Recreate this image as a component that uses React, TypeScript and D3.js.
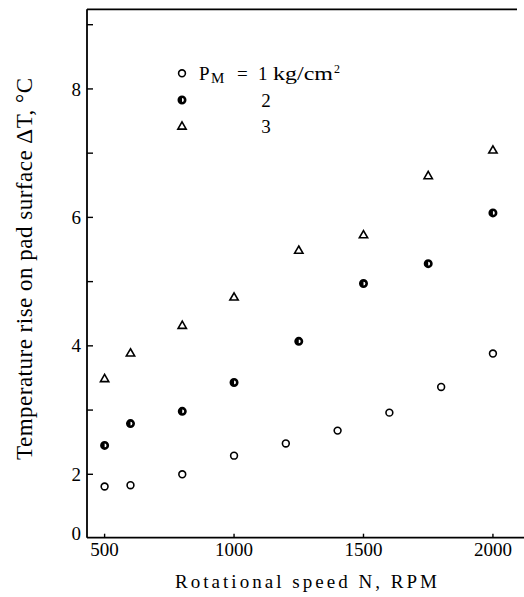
import React from "react";
import * as d3 from "d3";

// ---- data ----
const rpm1 = [500, 600, 800, 1000, 1200, 1400, 1600, 1800, 2000];
const dT1 = [1.81, 1.83, 2.0, 2.29, 2.48, 2.68, 2.96, 3.36, 3.88];
const rpm2 = [500, 600, 800, 1000, 1250, 1500, 1750, 2000];
const dT2 = [2.45, 2.79, 2.98, 3.43, 4.07, 4.97, 5.28, 6.07];
const rpm3 = [500, 600, 800, 1000, 1250, 1500, 1750, 2000];
const dT3 = [3.48, 3.88, 4.31, 4.75, 5.48, 5.72, 6.64, 7.04];

const xTicks = [500, 1000, 1500, 2000];
const yTickMarks = [2, 3, 4, 5, 6, 7, 8, 9];
const yTickLabels = [0, 2, 4, 6, 8];
const legendRows = ["1", "2", "3"];

const W = 524;
const H = 597;
const FONT = "Liberation Serif, Times New Roman, serif";

export default function App() {
  const left = 87;
  const top = 9.3;
  const bottom = 537.7;
  const right = 524;

  const x = d3.scaleLinear().domain([432, 2120]).range([left, right]);
  // broken axis: 0..1.7 compressed, linear above
  const yLin = d3.scaleLinear().domain([2, 9]).range([474.3, 24.7]);
  const y = d3
    .scaleLinear()
    .domain([0, 1.7, 9.24])
    .range([bottom, yLin(1.7), yLin(9.24)]);

  const tri = d3.symbol(d3.symbolTriangle, 30)() as string;

  const s1 = rpm1.map((r, i) => ({ r, v: dT1[i] }));
  const s2 = rpm2.map((r, i) => ({ r, v: dT2[i] }));
  const s3 = rpm3.map((r, i) => ({ r, v: dT3[i] }));

  const openCircle = (cx: number, cy: number, k: string) => (
    <circle key={k} cx={cx} cy={cy} r={3.4} fill="#fff" stroke="#000" strokeWidth={1.6} />
  );
  const thickCircle = (cx: number, cy: number, k: string) => (
    <g key={k}>
      <circle cx={cx} cy={cy} r={3.2} fill="#fff" stroke="#000" strokeWidth={2.6} />
      <path
        d={`M${cx},${cy - 3.2} A3.2,3.2 0 0 0 ${cx},${cy + 3.2} Z`}
        fill="#000"
      />
    </g>
  );
  const triangle = (cx: number, cy: number, k: string) => (
    <path
      key={k}
      d={tri}
      transform={`translate(${cx},${cy})`}
      fill="#fff"
      stroke="#000"
      strokeWidth={1.6}
    />
  );

  const legendY = [73.3, 100, 126.7];
  const legendMarkerX = 182;

  return (
    <svg
      width={W}
      height={H}
      style={{ position: "absolute", left: 0, top: 0, background: "#fff", fontFamily: FONT }}
    >
      <rect x={0} y={0} width={W} height={H} fill="#fff" />

      {/* frame */}
      <line x1={left} y1={top} x2={left} y2={bottom} stroke="#000" strokeWidth={1.8} />
      <line x1={left} y1={top} x2={517} y2={top} stroke="#000" strokeWidth={1.8} />
      <line x1={left} y1={bottom} x2={right} y2={bottom} stroke="#000" strokeWidth={1.8} />

      {/* y ticks */}
      {yTickMarks.map((t) => (
        <line key={"yt" + t} x1={left} x2={left + 6} y1={y(t)} y2={y(t)} stroke="#000" strokeWidth={1.4} />
      ))}
      {yTickLabels.map((t) => (
        <text
          key={"yl" + t}
          x={81}
          y={y(t)}
          dy={t === 0 ? "0.1em" : "0.35em"}
          textAnchor="end"
          fontSize={19}
          fill="#000"
        >
          {t}
        </text>
      ))}

      {/* x ticks */}
      {xTicks.map((t) => (
        <line key={"xt" + t} x1={x(t)} x2={x(t)} y1={bottom} y2={bottom - 4} stroke="#000" strokeWidth={1.4} />
      ))}
      {xTicks.map((t) => (
        <text key={"xl" + t} x={x(t)} y={556} textAnchor="middle" fontSize={19} fill="#000">
          {t}
        </text>
      ))}

      {/* axis titles */}
      <text
        x={306}
        y={588}
        textAnchor="middle"
        fontSize={19}
        textLength={262}
        lengthAdjust="spacing"
        fill="#000"
      >
        Rotational speed N, RPM
      </text>
      <text
        transform={`translate(32,269) rotate(-90)`}
        textAnchor="middle"
        fontSize={23}
        textLength={382}
        lengthAdjust="spacing"
        fill="#000"
      >
        Temperature rise on pad surface ΔT, °C
      </text>

      {/* data */}
      {s1.map((d, i) => openCircle(x(d.r), y(d.v), "a" + i))}
      {s2.map((d, i) => thickCircle(x(d.r), y(d.v), "b" + i))}
      {s3.map((d, i) => triangle(x(d.r), y(d.v), "c" + i))}

      {/* legend */}
      {openCircle(legendMarkerX, legendY[0], "l1")}
      {thickCircle(legendMarkerX, legendY[1], "l2")}
      {triangle(legendMarkerX, legendY[2], "l3")}
      <text x={199} y={legendY[0] + 6.7} fontSize={19} fill="#000">
        P
      </text>
      <text x={211} y={legendY[0] + 9.5} fontSize={15} fill="#000">
        M
      </text>
      <text x={237} y={legendY[0] + 6.7} fontSize={19} fill="#000">
        =
      </text>
      <text x={258} y={legendY[0] + 6.7} fontSize={19} fill="#000">
        {legendRows[0]}
      </text>
      <text x={273} y={legendY[0] + 6.7} fontSize={19} textLength={60} lengthAdjust="spacingAndGlyphs" fill="#000">
        kg/cm
      </text>
      <text x={334} y={legendY[0] - 0.5} fontSize={12} fill="#000">
        2
      </text>
      <text x={266} y={legendY[1] + 6.7} textAnchor="middle" fontSize={19} fill="#000">
        {legendRows[1]}
      </text>
      <text x={266} y={legendY[2] + 6.7} textAnchor="middle" fontSize={19} fill="#000">
        {legendRows[2]}
      </text>
    </svg>
  );
}
